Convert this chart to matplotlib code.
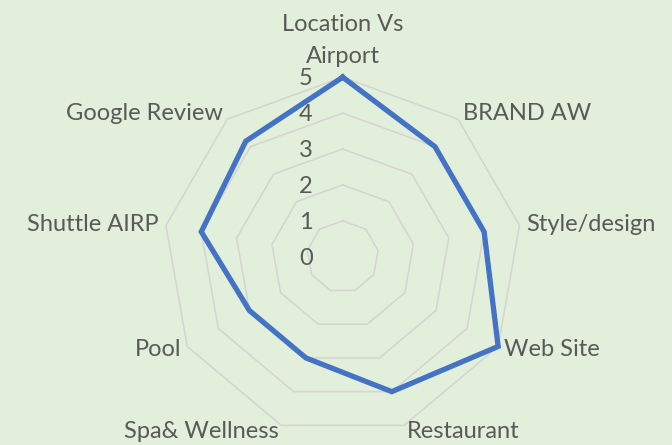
import numpy as np
import matplotlib
matplotlib.use("Agg")
import matplotlib.pyplot as plt

categories = ["Location Vs\nAirport", "BRAND AW", "Style/design", "Web Site",
              "Restaurant", "Spa& Wellness", "Pool", "Shuttle AIRP", "Google Review"]
values = [5, 4, 4, 5, 4, 3, 3, 4, 4.2]
levels = [0, 1, 2, 3, 4, 5]

BG = "#E2EFDA"
TXT = "#595959"
GRID = "#D4D4D4"
LINE = "#4472C4"
FONT = "Lato"
FS = 17

W, H = 672, 445
fig = plt.figure(figsize=(W / 100, H / 100), dpi=100, facecolor=BG)
cx, cy, R = 342.7, 445 - 256.7, 179.5
ax = fig.add_axes([(cx - R) / W, (cy - R) / H, 2 * R / W, 2 * R / H], projection="polar")
ax.set_facecolor("none")
ax.set_theta_offset(np.pi / 2)
ax.set_theta_direction(-1)
ax.set_ylim(0, max(levels))
ax.grid(False)
ax.spines["polar"].set_visible(False)
ax.set_xticks([])
ax.set_yticks([])

n = len(categories)
theta = np.arange(n) * 2 * np.pi / n
theta_c = np.append(theta, theta[0])

for lv in levels[1:]:
    ax.plot(theta_c, [lv] * (n + 1), color=GRID, lw=1.1, clip_on=False, zorder=1)

ax.plot(theta_c, values + values[:1], color=LINE, lw=3.8, clip_on=False,
        solid_joinstyle="miter", zorder=3)

px = 72 / 100  # points per pixel
for lv in levels:
    ax.annotate(str(lv), xy=(0, lv), xytext=(-30 * px, -1.5 * px), textcoords="offset points",
                ha="right", va="center", fontsize=FS, color=TXT, family=FONT)

for t, lab in zip(theta, categories):
    ang = np.pi / 2 - t  # screen angle
    c, s = np.cos(ang), np.sin(ang)
    if abs(c) < 0.05:
        ha, va = "center", "bottom"
        off = (0, 10 * px)
    else:
        ha = "left" if c > 0 else "right"
        va = "center"
        off = (7 * c * px, 7 * s * px)
    ax.annotate(lab, xy=(t, max(levels)), xytext=off, textcoords="offset points",
                ha=ha, va=va, fontsize=FS, color=TXT, family=FONT,
                multialignment="center", linespacing=1.65)

fig.savefig("out.png", dpi=100, facecolor=BG)
